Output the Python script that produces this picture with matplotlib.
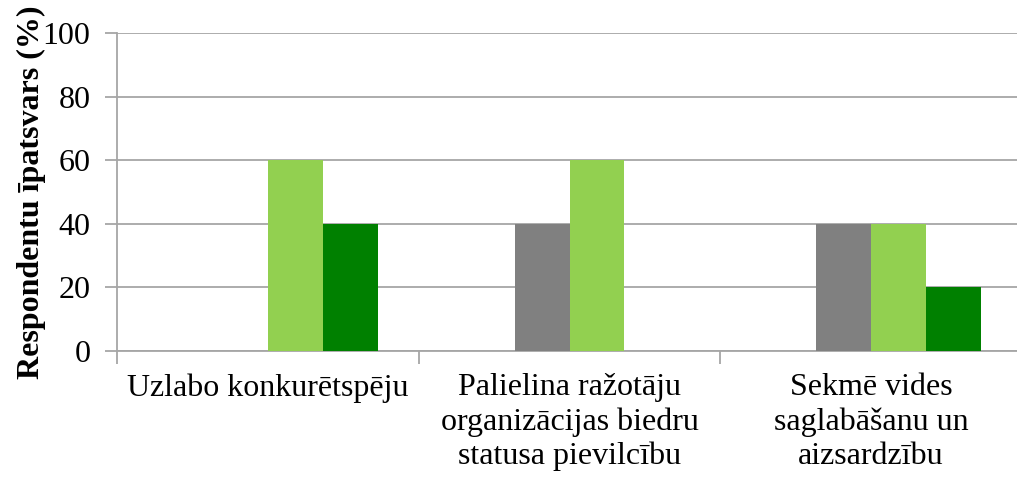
import matplotlib
matplotlib.use("Agg")
import matplotlib.pyplot as plt
import numpy as np

categories = ["Uzlabo konkurētspēju",
              "Palielina ražotāju\norganizācijas biedru\nstatusa pievilcību",
              "Sekmē vides\nsaglabāšanu un\naizsardzību"]
series_names = ["Sērija 1", "Sērija 2", "Sērija 3", "Sērija 4"]
series_values = [
    [0, 0, 0],
    [0, 40, 40],
    [60, 60, 40],
    [40, 0, 20],
]
series_colors = ["#4472C4", "#808080", "#92D050", "#008000"]
y_ticks = [0, 20, 40, 60, 80, 100]
y_label = "Respondentu īpatsvars (%)"

plt.rcParams['font.family'] = ['Liberation Serif', 'DejaVu Serif']
FS = 23

fig = plt.figure(figsize=(10.17, 4.8), dpi=100)
ax = fig.add_axes([117/1017, 129/480, 905/1017, 318/480])

n = len(series_values)
gap = 1.5
bw = 1.0 / (n + gap)
x = np.arange(len(categories))
for i, (vals, col, name) in enumerate(zip(series_values, series_colors, series_names)):
    offs = (i - (n - 1) / 2) * bw
    ax.bar(x + offs, vals, width=bw, color=col, label=name, zorder=3, linewidth=0)

ax.set_xlim(-0.5, len(categories) - 0.5)
ax.set_ylim(0, 100)
ax.set_yticks(y_ticks)
ax.set_yticklabels([str(t) for t in y_ticks], fontsize=FS)
ax.yaxis.grid(True, color="#a6a6a6", linewidth=1.3, zorder=0)
ax.set_axisbelow(True)

ax.set_xticks(x)
ax.set_xticklabels(categories, fontsize=FS, linespacing=1.22)
ax.set_xticks(np.arange(len(categories) + 1) - 0.5, minor=True)
ax.tick_params(axis='x', which='major', length=0, pad=16)
ax.tick_params(axis='x', which='minor', length=9, width=1.3, color="#a6a6a6", direction='out')
ax.tick_params(axis='y', length=9, width=1.3, color="#a6a6a6", direction='out', pad=10)

for s in ['top', 'right']:
    ax.spines[s].set_visible(False)
for s in ['left', 'bottom']:
    ax.spines[s].set_color("#a6a6a6")
    ax.spines[s].set_linewidth(1.3)

ax.set_ylabel(y_label, fontsize=FS, fontweight='bold', labelpad=-2)

fig.savefig("out.png", dpi=100)
